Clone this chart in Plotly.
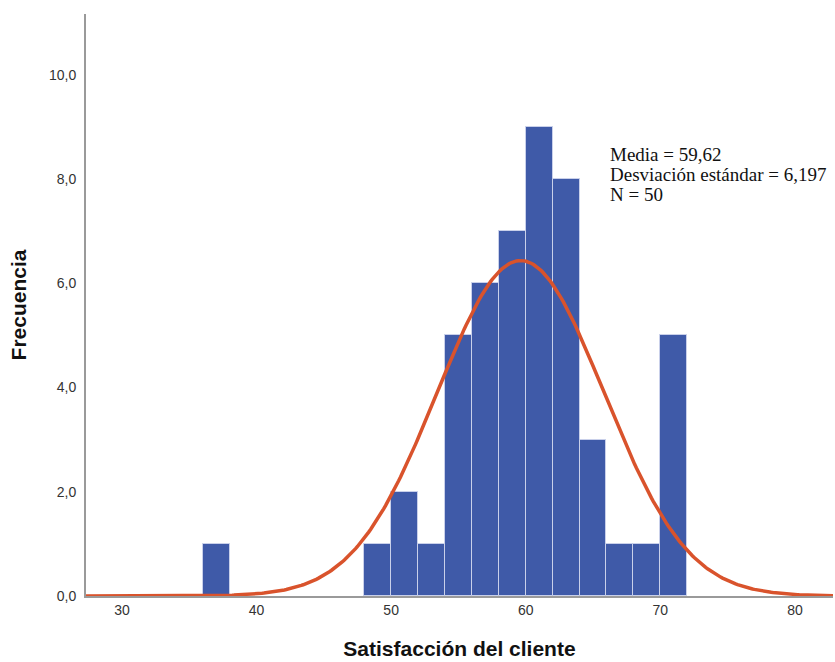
import numpy as np
import plotly.graph_objects as go

# Histogram bins (left edges, width 2) and frequencies
bin_left = [36, 48, 50, 52, 54, 56, 58, 60, 62, 64, 66, 68, 70]
freq = [1, 1, 2, 1, 5, 6, 7, 9, 8, 3, 1, 1, 5]
bin_width = 2

# Summary statistics
media = 59.62
desv = 6.197
n = 50
stats_lines = ["Media = 59,62", "Desviación estándar = 6,197", "N = 50"]

y_ticks = [0, 2, 4, 6, 8, 10]
y_tick_text = ["0,0", "2,0", "4,0", "6,0", "8,0", "10,0"]
x_ticks = [30, 40, 50, 60, 70, 80]

x_range = [27.33, 82.83]

centers = [b + bin_width / 2 for b in bin_left]

# Normal curve scaled to frequency
xs = np.linspace(x_range[0], x_range[1], 400)
ys = n * bin_width * np.exp(-0.5 * ((xs - media) / desv) ** 2) / (desv * np.sqrt(2 * np.pi))

fig = go.Figure()
fig.add_trace(go.Bar(
    x=centers, y=freq, width=bin_width,
    marker=dict(color="#3F5AA8", line=dict(color="#C9D0EA", width=1)),
    hoverinfo="x+y",
))
fig.add_trace(go.Scatter(
    x=xs, y=ys, mode="lines",
    line=dict(color="#D9532C", width=3.5),
    hoverinfo="skip",
))

# Statistics box, one annotation per line for tight line spacing
for i, line in enumerate(stats_lines):
    fig.add_annotation(
        xref="paper", yref="paper", x=0.699, y=0.758 - i * 0.0337,
        xanchor="left", yanchor="middle", align="left", showarrow=False,
        text=line,
        font=dict(family="Liberation Serif, Times New Roman, serif", size=19, color="#111"),
    )

fig.update_layout(
    width=835, height=662,
    margin=dict(l=86, r=2, t=14, b=66),
    plot_bgcolor="white", paper_bgcolor="white",
    showlegend=False,
    bargap=0,
    font=dict(family="Liberation Sans, Arial, sans-serif", color="#222"),
)
fig.update_xaxes(
    range=x_range, tickvals=x_ticks, showgrid=False, zeroline=False,
    showline=True, linecolor="#9A9A9A", linewidth=2, ticks="",
    tickfont=dict(size=14, color="#333"),
    title=dict(text="<b>Satisfacción del cliente</b>", font=dict(size=21, color="#111"), standoff=25),
)
fig.update_yaxes(
    range=[0, 11.17], tickvals=y_ticks, ticktext=y_tick_text,
    showgrid=False, zeroline=False,
    showline=True, linecolor="#9A9A9A", linewidth=2, ticks="",
    ticklabelstandoff=5,
    tickfont=dict(size=14, color="#333"),
    title=dict(text="<b>Frecuencia</b>", font=dict(size=21, color="#111"), standoff=17),
)

fig.write_html("out.html")
